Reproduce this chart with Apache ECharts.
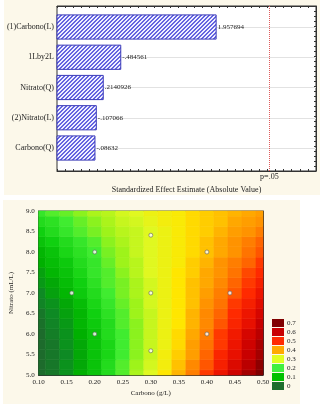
<!DOCTYPE html>
<html>
<head>
<meta charset="utf-8">
<script src="https://cdn.jsdelivr.net/npm/echarts@6/dist/echarts.min.js"></script>
<style>
html, body { margin: 0; padding: 0; background: #fff; }
#chart { width: 320px; height: 404px; }
</style>
</head>
<body>
<div id="chart"></div>
<script>
// pareto of standardized effects
const effectNames = ['(1)Carbono(L)', '1Lby2L', 'Nitrato(Q)', '(2)Nitrato(L)', 'Carbono(Q)']
const effectValues = [1.957694, 0.484561, 0.2140926, 0.107066, 0.08632]
const effectLabels = ['1.957694', '-.484561', '.2140926', '-.107066', '-.08632']
const pCritical = 2.776
const pLabel = 'p=.05'

// fitted surface (rows = nitrato, cols = carbono)
const carbonoSteps = [0.10, 0.125, 0.15, 0.175, 0.20, 0.225, 0.25, 0.275, 0.30, 0.325, 0.35, 0.375, 0.40, 0.425, 0.45, 0.475, 0.50]
const nitratoSteps = [5.0, 5.25, 5.5, 5.75, 6.0, 6.25, 6.5, 6.75, 7.0, 7.25, 7.5, 7.75, 8.0, 8.25, 8.5, 8.75, 9.0]
const fitted = [
  [-0.01, 0.02, 0.06, 0.10, 0.13, 0.17, 0.21, 0.26, 0.30, 0.35, 0.39, 0.44, 0.49, 0.54, 0.59, 0.65, 0.70],
  [-0.01, 0.02, 0.06, 0.09, 0.13, 0.17, 0.21, 0.25, 0.29, 0.33, 0.38, 0.43, 0.47, 0.52, 0.57, 0.62, 0.68],
  [-0.01, 0.02, 0.05, 0.09, 0.13, 0.16, 0.20, 0.24, 0.28, 0.33, 0.37, 0.41, 0.46, 0.51, 0.55, 0.60, 0.65],
  [-0.01, 0.02, 0.06, 0.09, 0.13, 0.16, 0.20, 0.24, 0.28, 0.32, 0.36, 0.41, 0.45, 0.49, 0.54, 0.59, 0.64],
  [0.00, 0.03, 0.06, 0.10, 0.13, 0.17, 0.20, 0.24, 0.28, 0.32, 0.36, 0.40, 0.44, 0.49, 0.53, 0.58, 0.62],
  [0.01, 0.04, 0.07, 0.11, 0.14, 0.17, 0.21, 0.24, 0.28, 0.32, 0.35, 0.39, 0.43, 0.47, 0.51, 0.55, 0.60],
  [0.02, 0.05, 0.08, 0.11, 0.15, 0.18, 0.21, 0.25, 0.28, 0.32, 0.35, 0.39, 0.43, 0.46, 0.50, 0.54, 0.58],
  [0.04, 0.06, 0.09, 0.12, 0.16, 0.19, 0.22, 0.25, 0.29, 0.32, 0.35, 0.38, 0.42, 0.45, 0.49, 0.52, 0.56],
  [0.05, 0.08, 0.11, 0.14, 0.17, 0.20, 0.23, 0.26, 0.29, 0.32, 0.35, 0.38, 0.41, 0.44, 0.47, 0.50, 0.54],
  [0.07, 0.09, 0.12, 0.15, 0.18, 0.21, 0.23, 0.26, 0.29, 0.32, 0.35, 0.38, 0.40, 0.43, 0.46, 0.49, 0.52],
  [0.08, 0.11, 0.13, 0.16, 0.19, 0.21, 0.24, 0.27, 0.30, 0.32, 0.35, 0.37, 0.40, 0.42, 0.45, 0.48, 0.50],
  [0.10, 0.12, 0.14, 0.17, 0.19, 0.22, 0.25, 0.27, 0.30, 0.32, 0.34, 0.37, 0.39, 0.42, 0.44, 0.46, 0.49],
  [0.11, 0.13, 0.16, 0.18, 0.20, 0.23, 0.25, 0.28, 0.30, 0.32, 0.34, 0.36, 0.38, 0.40, 0.42, 0.45, 0.47],
  [0.13, 0.15, 0.17, 0.19, 0.21, 0.24, 0.26, 0.28, 0.30, 0.32, 0.34, 0.36, 0.38, 0.40, 0.42, 0.44, 0.46],
  [0.15, 0.17, 0.19, 0.21, 0.23, 0.25, 0.27, 0.28, 0.30, 0.32, 0.34, 0.36, 0.37, 0.39, 0.41, 0.42, 0.44],
  [0.17, 0.18, 0.20, 0.22, 0.24, 0.26, 0.28, 0.29, 0.31, 0.33, 0.34, 0.36, 0.37, 0.38, 0.40, 0.41, 0.42],
  [0.19, 0.21, 0.22, 0.24, 0.26, 0.27, 0.29, 0.30, 0.32, 0.33, 0.34, 0.36, 0.37, 0.38, 0.39, 0.40, 0.41]
]
const designCarbono = [0.20, 0.30, 0.40, 0.159, 0.30, 0.441, 0.20, 0.30, 0.40]
const designNitrato = [8.0, 8.41, 8.0, 7.0, 7.0, 7.0, 6.0, 5.59, 6.0]
const legendLevels = [0, 0.1, 0.2, 0.3, 0.4, 0.5, 0.6, 0.7]
const legendColors = ['#1e6e2e', '#00c000', '#40f040', '#e0ff20', '#ffaa00', '#ff2a00', '#c80000', '#800000']
const surfaceColors = ['#1d6b2c', '#0e8a24', '#00b000', '#10d010', '#40ec30', '#9ef31a', '#e0f820', '#ffe600',
  '#ffa800', '#ff7400', '#ff2a00', '#e81000', '#c80000', '#a40000', '#800000']

const serif = '"Liberation Serif", "Times New Roman", serif'
const cream = '#fcf8ea'
const barMin = -0.5

// hatch fill for the bars
const hatch = document.createElement('canvas')
hatch.width = 4
hatch.height = 4
const hctx = hatch.getContext('2d')
hctx.fillStyle = '#eeeeff'
hctx.fillRect(0, 0, 4, 4)
hctx.fillStyle = '#6464e0'
for (let x = 0; x < 4; x++) {
    for (let y = 0; y < 4; y++) {
        const k = (x + y) % 4
        if (k === 3 || k === 0) hctx.fillRect(x, y, 1, 1)
    }
}

const surfaceData = []
nitratoSteps.forEach((ny, j) => {
    carbonoSteps.forEach((cx, i) => surfaceData.push([cx, ny, fitted[j][i]]))
})
const halfW = (carbonoSteps[1] - carbonoSteps[0]) / 2
const halfH = (nitratoSteps[1] - nitratoSteps[0]) / 2

function renderBar(params, api) {
    const idx = api.value(1)
    const start = api.coord([barMin, idx])
    const end = api.coord([api.value(0), idx])
    const h = api.size([0, 1])[1] * 0.8
    return {
        type: 'group',
        children: [
            { type: 'rect', shape: { x: start[0], y: start[1] - h / 2, width: end[0] - start[0], height: h },
              style: { fill: { image: hatch, repeat: 'repeat' }, stroke: '#3a3ab8', lineWidth: 1 } },
            { type: 'text', x: end[0] + 1.5, y: end[1],
              style: { text: effectLabels[params.dataIndex], fill: '#222', font: '7px ' + serif, verticalAlign: 'middle', align: 'left' } }
        ]
    }
}

function renderCell(params, api) {
    const x = api.value(0), y = api.value(1)
    const p0 = api.coord([x - halfW, y + halfH])
    const p1 = api.coord([x + halfW, y - halfH])
    const cs = params.coordSys
    const shape = echarts.graphic.clipRectByRect(
        { x: p0[0], y: p0[1], width: p1[0] - p0[0], height: p1[1] - p0[1] },
        { x: cs.x, y: cs.y, width: cs.width, height: cs.height })
    if (!shape) return
    const c = api.visual('color')
    return { type: 'rect', shape: shape, style: { fill: c, stroke: c, lineWidth: 0.6 } }
}

const tickInside = { show: true, inside: true, length: 2, lineStyle: { color: '#333' } }
const tickInside3 = { show: true, inside: true, length: 3, lineStyle: { color: '#333' } }
const darkLine = { show: true, onZero: false, lineStyle: { color: '#333', width: 1 } }

const myChart = echarts.init(document.getElementById('chart'), null, { renderer: 'canvas' })
myChart.setOption({
    animation: false,
    backgroundColor: '#fff',
    textStyle: { fontFamily: serif },
    graphic: [
        { type: 'rect', z: -100, silent: true, shape: { x: 4, y: 0, width: 316, height: 195 }, style: { fill: cream } },
        { type: 'rect', z: -100, silent: true, shape: { x: 3, y: 200, width: 297, height: 204 }, style: { fill: cream } }
    ],
    grid: [
        { left: 57, top: 6, width: 259, height: 165, show: true, backgroundColor: '#fff', borderColor: '#333', borderWidth: 1 },
        { left: 57, top: 27, width: 259, height: 121 },
        { left: 32, top: 211, width: 231, height: 164, show: true, borderColor: '#444', borderWidth: 1 }
    ],
    xAxis: [
        { gridIndex: 0, type: 'value', position: 'bottom', min: -0.5, max: 3.5, interval: 0.125,
          axisLine: darkLine, axisTick: tickInside, axisLabel: { show: false }, splitLine: { show: false },
          name: 'Standardized Effect Estimate (Absolute Value)', nameLocation: 'middle', nameGap: 15,
          nameTextStyle: { fontFamily: serif, fontSize: 8, color: '#222' } },
        { gridIndex: 0, type: 'value', position: 'top', min: -0.5, max: 3.5, interval: 0.125,
          axisLine: darkLine, axisTick: tickInside, axisLabel: { show: false }, splitLine: { show: false } },
        { gridIndex: 1, type: 'value', min: barMin, max: 3.5, show: false },
        { gridIndex: 2, type: 'value', position: 'bottom', min: 0.1, max: 0.5, interval: 0.05,
          axisLine: darkLine, axisTick: tickInside3,
          axisLabel: { margin: 4, fontFamily: serif, fontSize: 7, color: '#222', formatter: v => v.toFixed(2) },
          splitLine: { show: false },
          name: 'Carbono (g/L)', nameLocation: 'middle', nameGap: 15,
          nameTextStyle: { fontFamily: serif, fontSize: 7, color: '#222' } },
        { gridIndex: 2, type: 'value', position: 'top', min: 0.1, max: 0.5, interval: 0.05,
          axisLine: darkLine, axisTick: tickInside3, axisLabel: { show: false }, splitLine: { show: false } }
    ],
    yAxis: [
        { gridIndex: 0, type: 'value', position: 'right', min: 0, max: 33, interval: 1,
          axisLine: darkLine, axisTick: tickInside, axisLabel: { show: false }, splitLine: { show: false } },
        { gridIndex: 1, type: 'category', data: effectNames, inverse: true, boundaryGap: false,
          axisLine: { show: false }, axisTick: { show: false },
          axisLabel: { margin: 3, fontFamily: serif, fontSize: 8, color: '#222' },
          splitLine: { show: true, lineStyle: { color: '#e2e2e2', width: 1 } } },
        { gridIndex: 2, type: 'value', position: 'left', min: 5, max: 9, interval: 0.5,
          axisLine: darkLine, axisTick: tickInside3,
          axisLabel: { margin: 4, fontFamily: serif, fontSize: 7, color: '#222', formatter: v => v.toFixed(1) },
          splitLine: { show: false },
          name: 'Nitrato (mL/L)', nameLocation: 'middle', nameGap: 17,
          nameTextStyle: { fontFamily: serif, fontSize: 7, color: '#222' } },
        { gridIndex: 2, type: 'value', position: 'right', min: 5, max: 9, interval: 0.5,
          axisLine: darkLine, axisTick: tickInside3, axisLabel: { show: false }, splitLine: { show: false } }
    ],
    visualMap: [
        { type: 'continuous', show: false, seriesIndex: 2, dimension: 2, min: 0, max: 0.7,
          inRange: { color: surfaceColors }, outOfRange: { color: surfaceColors[0] } },
        { type: 'piecewise', seriesIndex: 4, left: 272, top: 319, orient: 'vertical', align: 'left', padding: 0,
          itemWidth: 12, itemHeight: 8, itemGap: 1, textGap: 3, itemSymbol: 'rect', selectedMode: false,
          textStyle: { fontFamily: serif, fontSize: 7, color: '#222' },
          pieces: legendLevels.map((v, i) => ({ value: v, label: String(v), color: legendColors[i] })) }
    ],
    series: [
        { type: 'custom', xAxisIndex: 2, yAxisIndex: 1, renderItem: renderBar, silent: true,
          encode: { x: 0, y: 1 },
          data: effectValues.map((v, i) => [v, effectNames[i]]) },
        { type: 'line', xAxisIndex: 0, yAxisIndex: 0, data: [], silent: true,
          markLine: { symbol: 'none', silent: true, animation: false,
            lineStyle: { color: '#e05a5a', type: [1, 1], width: 1 },
            label: { position: 'start', formatter: pLabel, distance: 2, fontFamily: serif, fontSize: 8, color: '#222' },
            data: [{ xAxis: pCritical }] } },
        { type: 'custom', xAxisIndex: 3, yAxisIndex: 2, renderItem: renderCell, silent: true,
          encode: { x: 0, y: 1 }, data: surfaceData },
        { type: 'scatter', xAxisIndex: 3, yAxisIndex: 2, symbolSize: 4, silent: true, z: 5,
          itemStyle: { color: '#fff', borderColor: '#666', borderWidth: 0.8 },
          data: designCarbono.map((c, i) => [c, designNitrato[i]]) },
        { type: 'line', xAxisIndex: 3, yAxisIndex: 2, data: [] }
    ]
})
</script>
</body>
</html>
